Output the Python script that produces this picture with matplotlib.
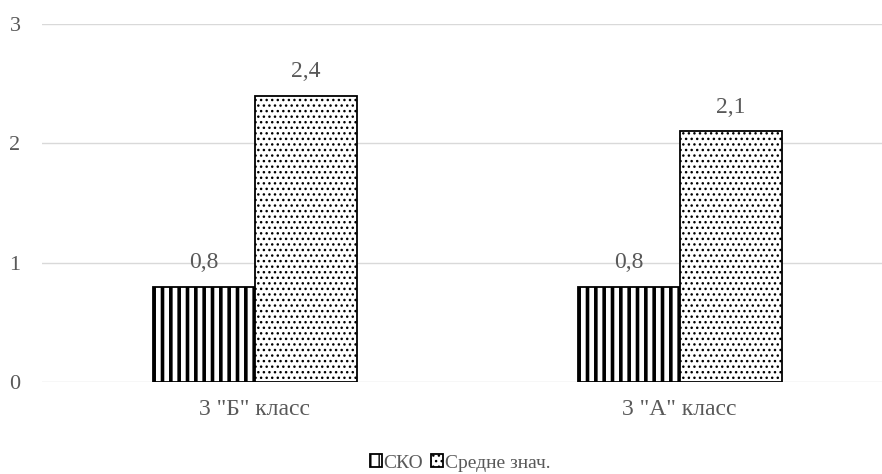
import matplotlib
matplotlib.use("Agg")
import matplotlib.pyplot as plt
import numpy as np

CATEGORIES = ['3 "Б" класс', '3 "А" класс']
SKO = [0.8, 0.8]
MEAN = [2.4, 2.1]
SERIES_LABELS = ["СКО", "Средне знач."]
VALUE_LABELS_SKO = ["0,8", "0,8"]
VALUE_LABELS_MEAN = ["2,4", "2,1"]

WIDTH = 0.24
TEXT_COLOR = "#595959"

plt.rcParams["font.family"] = ["Liberation Serif", "DejaVu Serif"]
plt.rcParams["font.size"] = 14

figure = plt.figure(figsize=(8.82, 4.74), dpi=100)
axes = figure.add_axes([42 / 882, 1 - 382 / 474, 850 / 882, 358 / 474])

x = np.arange(len(CATEGORIES))

with plt.rc_context({"hatch.linewidth": 2.6, "hatch.color": "black"}):
    bars_sko = axes.bar(x - WIDTH / 2, SKO, width=WIDTH, facecolor="white",
                        edgecolor="black", linewidth=1.3, hatch="||",
                        label=SERIES_LABELS[0], zorder=3)
with plt.rc_context({"hatch.linewidth": 1.0, "hatch.color": "#333333"}):
    bars_mean = axes.bar(x + WIDTH / 2, MEAN, width=WIDTH, facecolor="white",
                         edgecolor="black", linewidth=1.3, hatch="...",
                         label=SERIES_LABELS[1], zorder=3)

for bars, labels in ((bars_sko, VALUE_LABELS_SKO), (bars_mean, VALUE_LABELS_MEAN)):
    for bar, text in zip(bars, labels):
        axes.annotate(text, (bar.get_x() + bar.get_width() / 2, bar.get_height()),
                      xytext=(0, 10), textcoords="offset points",
                      ha="center", va="bottom", color=TEXT_COLOR, fontsize=17)

axes.set_xlim(-0.5, 1.5)
axes.set_ylim(0, 3)
axes.set_yticks([0, 1, 2, 3])
axes.set_xticks(x)
axes.set_xticklabels(CATEGORIES)
axes.grid(axis="y", color="#d9d9d9", linewidth=1.0, zorder=0)
axes.set_axisbelow(True)
for spine in axes.spines.values():
    spine.set_visible(False)
axes.tick_params(axis="both", length=0, colors=TEXT_COLOR)
axes.tick_params(axis="y", pad=15.5, labelsize=16)
axes.tick_params(axis="x", pad=12, labelsize=17)

axes.legend(loc="center", bbox_to_anchor=(460 / 882, 1 - 463 / 474),
            bbox_transform=figure.transFigure, ncol=2, frameon=False,
            handlelength=0.6, handleheight=0.6, handletextpad=0.1,
            columnspacing=0.4, labelcolor=TEXT_COLOR, fontsize=14)

figure.savefig("out.png", dpi=100)
